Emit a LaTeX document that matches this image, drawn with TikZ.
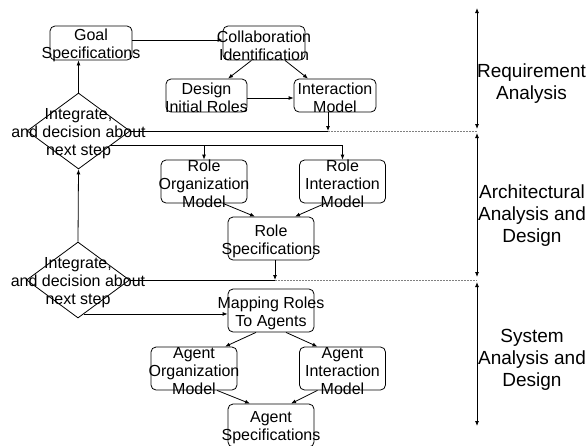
\documentclass[tikz,border=0pt]{standalone}
\usepackage{fontspec}
\setmainfont{Liberation Sans}
\usetikzlibrary{arrows.meta, shapes.geometric, positioning, calc}

\begin{document}
\begin{tikzpicture}[x=1pt,y=-1pt,
		box/.style={draw, rounded corners=5pt, line width=0.8pt, minimum width=86pt, minimum height=43pt, inner sep=0pt},
		smallbox/.style={box, minimum width=82pt, minimum height=34pt},
		decision/.style={draw, diamond, line width=0.8pt, minimum width=103pt, minimum height=76pt, inner sep=0pt},
		txt/.style={align=center, font=\fontsize{16}{18}\selectfont, inner sep=0pt, yshift=-2.5pt},
		phase/.style={align=center, font=\fontsize{19}{22}\selectfont, inner sep=0pt},
		arr/.style={-{Latex[length=5pt,width=4pt]}, line width=0.8pt},
		link/.style={line width=0.8pt},
		bound/.style={dashed, dash pattern=on 2pt off 1pt, gray, line width=0.6pt},
		span/.style={{Latex[length=5pt,width=4pt]}-{Latex[length=5pt,width=4pt]}, line width=0.8pt}]
		\useasboundingbox (0,0) rectangle (586,445);
		
		% requirement analysis
		\node[smallbox, label={[txt]center:{Goal\\Specifications}}] (goal) at (91,43) {};
		\node[smallbox, label={[txt]center:{Collaboration\\Identification}}] (collab) at (264,43) {};
		\node[smallbox, minimum width=81pt, minimum height=33pt, label={[txt]center:{Design\\Initial Roles}}] (design) at (206.5,95.5) {};
		\node[smallbox, minimum height=33pt, label={[txt]center:{Interaction\\Model}}] (intm) at (335,95.5) {};
		\node[decision, label={[txt]center:{Integrate,\\and decision about\\next step}}] (dec1) at (78.5,131) {};
		
		% architectural analysis and design
		\node[box, label={[txt]center:{Role\\Organization\\Model}}] (rorg) at (204,181.5) {};
		\node[box, label={[txt]center:{Role\\Interaction\\Model}}] (rint) at (342.5,181.5) {};
		\node[box, label={[txt]center:{Role\\Specifications}}] (rspec) at (271,238.5) {};
		\node[decision, label={[txt]center:{Integrate,\\and decision about\\next step}}] (dec2) at (78,280) {};
		
		% system analysis and design
		\node[box, label={[txt]center:{Mapping Roles\\To Agents}}] (map) at (271,310.5) {};
		\node[box, label={[txt]center:{Agent\\Organization\\Model}}] (aorg) at (194,368.5) {};
		\node[box, label={[txt]center:{Agent\\Interaction\\Model}}] (aint) at (342.5,368.5) {};
		\node[box, label={[txt]center:{Agent\\Specifications}}] (aspec) at (271,425.5) {};
		
		% phases
		\coordinate (ax0) at (477,8);
		\coordinate (ax1) at (477,129);
		\coordinate (ax2) at (477,133);
		\coordinate (ax3) at (477,277);
		\coordinate (ax4) at (477,282);
		\coordinate (ax5) at (477,426);
		\draw[span] (ax0) -- (ax1);
		\draw[span] (ax2) -- (ax3);
		\draw[span] (ax4) -- (ax5);
		\node[phase] (req) at (531.5,84) {Requirement\\Analysis};
		\node[phase] (arch) at (532,216) {Architectural\\Analysis and\\Design};
		\node[phase] (sys) at (532,360) {System\\Analysis and\\Design};
		
		% connectors
		\draw[arr] ([yshift=3pt]goal.east) -- ([yshift=3pt]collab.west);
		\draw[arr] ([xshift=-12.5pt]collab.south) -- ([xshift=21.5pt]design.north);
		\draw[arr] ([xshift=21pt]collab.south) -- ([xshift=-27pt]intm.north);
		\draw[arr] ([yshift=-2.5pt]design.east) -- ([yshift=-2.5pt]intm.west);
		\coordinate (m1) at (328,131);
		\draw[arr] ([xshift=-7pt]intm.south) -- (m1);
		\draw[link] (dec1.east) -- (m1);
		\draw[bound] (m1) -- (m1 -| ax1);
		\draw[arr] (dec1.north) -- (dec1.north |- goal.south);
		\draw[arr] (dec1.-25) -| (rint.north);
		\draw[arr] (dec1.-25 -| rorg.north) -- (rorg.north);
		\draw[arr] ([xshift=19pt]rorg.south) -- ([xshift=-16pt]rspec.north);
		\draw[arr] ([xshift=-17.5pt]rint.south) -- ([xshift=24pt]rspec.north);
		\coordinate (m2) at (275,280);
		\draw[arr] ([xshift=4pt]rspec.south) -- (m2);
		\draw[link] (dec2.east) -- (m2);
		\draw[bound] (m2) -- (m2 -| ax3);
		\draw[arr] (dec2.north) -- (dec1.south);
		\draw[arr] (dec2.-80) -- (dec2.-80 -| map.west);
		\draw[arr] ([xshift=-15pt]map.south) -- ([xshift=31pt]aorg.north);
		\draw[arr] ([xshift=15pt]map.south) -- ([xshift=-25pt]aint.north);
		\draw[arr] ([xshift=23pt]aorg.south) -- ([xshift=-21pt]aspec.north);
		\draw[arr] ([xshift=-25pt]aint.south) -- ([xshift=20pt]aspec.north);
		
\end{tikzpicture}
\end{document}
